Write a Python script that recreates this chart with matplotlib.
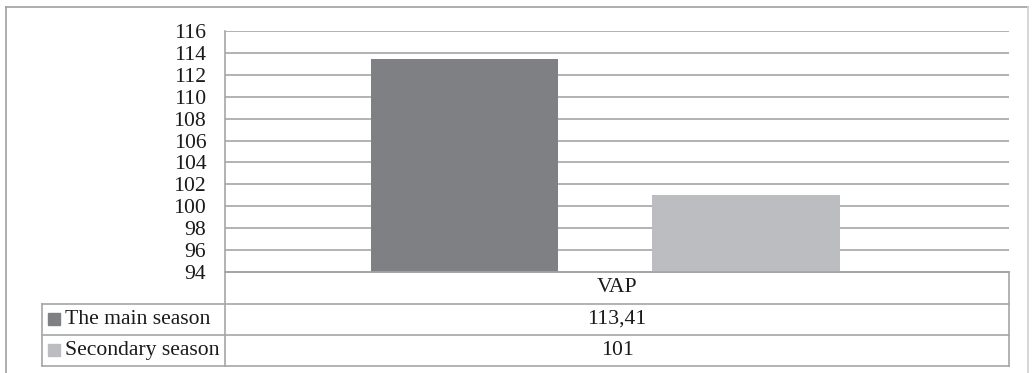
import matplotlib.pyplot as plt
from matplotlib.patches import Rectangle
from matplotlib.lines import Line2D

# data
categories = ['VAP']
series_names = ['The main season', 'Secondary season']
main_season = [113.41]
secondary_season = [101]
y_ticks = list(range(94, 117, 2))

colors = ['#7f8084', '#bcbdc1']
grid_col = '#a6a6a6'
plt.rcParams['font.family'] = ['Liberation Serif', 'DejaVu Serif']
fs = 15.6

W, H = 1033, 373
fig = plt.figure(figsize=(W / 100, H / 100), dpi=100)

# plot area in pixels
left, right, top, bottom = 225, 1009, 31, 272
ax = fig.add_axes([left / W, 1 - bottom / H, (right - left) / W, (bottom - top) / H])

# bars
offsets = [-0.6, 0.6]
for i, vals in enumerate([main_season, secondary_season]):
    ax.bar([offsets[i]], vals, width=0.8, color=colors[i], zorder=3)

ax.set_ylim(94, 116)
ax.set_xlim(-1.62, 1.72)
ax.set_yticks(y_ticks)
ax.set_yticklabels([str(t) for t in y_ticks], fontsize=fs, color='#1a1a1a')
ax.tick_params(axis='y', length=0, pad=13.5)
ax.set_xticks([])
ax.yaxis.grid(True, color=grid_col, linewidth=1.2, zorder=0)
ax.set_axisbelow(True)
for s in ['top', 'right']:
    ax.spines[s].set_visible(False)
ax.spines['left'].set_color(grid_col)
ax.spines['bottom'].set_color(grid_col)
ax.spines['left'].set_linewidth(1.2)
ax.spines['bottom'].set_linewidth(1.4)

# data table below the axes (drawn in figure pixels)
def fx(px):
    return px / W

def fy(py):
    return 1 - py / H

rows = [272, 304, 334.5, 366]
leg_left = 42
lw = 1.2
lines = []
lines.append(([left, left], [rows[0], rows[-1]]))
lines.append(([right, right], [rows[0], rows[-1]]))
lines.append(([leg_left, leg_left], [rows[1], rows[-1]]))
lines.append(([left, right], [rows[0], rows[0]]))
for r in rows[1:]:
    lines.append(([leg_left, right], [r, r]))
for xs, ys in lines:
    fig.add_artist(Line2D([fx(x) for x in xs], [fy(y) for y in ys],
                          color=grid_col, linewidth=lw))

mid = (left + right) / 2
fig.text(fx(mid), fy((rows[0] + rows[1]) / 2), categories[0], ha='center', va='center',
         fontsize=fs, color='#1a1a1a')
for i, (name, vals) in enumerate(zip(series_names, [main_season, secondary_season])):
    yc = (rows[i + 1] + rows[i + 2]) / 2
    label = f'{vals[0]:g}'.replace('.', ',')
    fig.text(fx(mid), fy(yc), label, ha='center', va='center', fontsize=fs, color='#1a1a1a')
    fig.add_artist(Rectangle((fx(48), fy(yc + 6)), 12 / W, 12 / H,
                             color=colors[i], transform=fig.transFigure))
    fig.text(fx(65), fy(yc), name, ha='left', va='center', fontsize=fs, color='#1a1a1a')

# outer chart border
border = '#a0a0a0'
fig.add_artist(Line2D([fx(6), fx(6)], [fy(7), fy(380)], color=border, linewidth=1.2))
fig.add_artist(Line2D([fx(6), fx(1028)], [fy(7), fy(7)], color=border, linewidth=1.2))
fig.add_artist(Line2D([fx(1028), fx(1028)], [fy(7), fy(380)], color='#d0d0d0', linewidth=1.2))

fig.savefig('out.png', dpi=100)
